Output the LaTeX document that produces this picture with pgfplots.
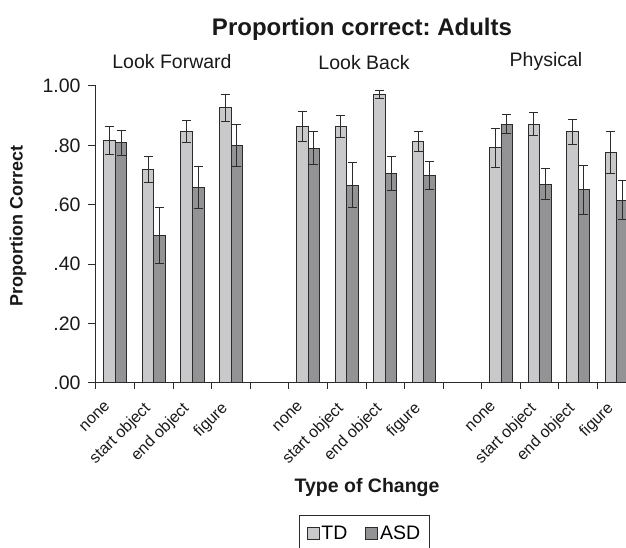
\documentclass[border=0pt]{standalone}
\usepackage{pgfplots}
\usepackage{pgfplotstable}
\pgfplotsset{compat=1.18}
\usepackage{fontspec}
\setmainfont{Liberation Sans}
\frenchspacing
\definecolor{tdfill}{HTML}{C9C9CB}
\definecolor{asdfill}{HTML}{939396}
\definecolor{edge}{HTML}{2B2B2B}
\pgfplotstableread{
x td tdse asd asdse
0 0.816 0.048 0.809 0.042
1 0.719 0.044 0.497 0.095
2 0.846 0.037 0.658 0.072
3 0.926 0.047 0.799 0.070
5 0.863 0.050 0.791 0.057
6 0.863 0.038 0.666 0.076
7 0.972 0.013 0.704 0.057
8 0.813 0.034 0.699 0.047
10 0.792 0.066 0.872 0.033
11 0.872 0.040 0.670 0.052
12 0.846 0.042 0.650 0.082
13 0.775 0.071 0.616 0.067
}\data
\begin{document}
\frenchspacing
\begin{tikzpicture}[x=1pt,y=1pt]
\useasboundingbox (-96,-165) rectangle (530,383);
\clip (-96,-165) rectangle (530,383);
\begin{axis}[
  at={(0,0)}, anchor=south west,
  scale only axis, width=540pt, height=297pt,
  xmin=-0.5, xmax=13.5, ymin=0, ymax=1,
  clip=false,
  axis x line*=bottom, axis y line*=left,
  axis line style={line width=1pt, -, edge},
  tick align=outside,
  major tick length=8pt,
  minor tick length=6pt,
  tick style={line width=1pt, edge},
  ytick={0,0.2,0.4,0.6,0.8,1},
  yticklabels={.00,.20,.40,.60,.80,1.00},
  yticklabel style={xshift=-4pt, font=\fontsize{19.5}{19.5}\selectfont, text=black!90},
  xtick={0,1,2,3,5,6,7,8,10,11,12,13},
  xticklabels={none,start object,end object,figure,none,start object,end object,figure,none,start object,end object,figure},
  minor xtick={-0.5,0.5,...,13.5},
  major x tick style={draw=none},
  xticklabel style={xshift=-11pt, yshift=-5pt, rotate=45, anchor=north east, font=\fontsize{16}{16}\selectfont, text=black!90},
  title={Proportion correct: Adults},
  title style={at={(axis description cs:0.4926,1.150)}, anchor=base, font=\bfseries\fontsize{24}{24}\selectfont, text=black!90},
  xlabel={Type of Change},
  xlabel style={at={(axis description cs:0.5019,-0.352)}, anchor=center, font=\bfseries\fontsize{19.5}{19.5}\selectfont, text=black!90},
  ylabel={Proportion Correct},
  ylabel style={at={(axis description cs:-0.1444,0.5286)}, anchor=center, font=\bfseries\fontsize{18}{18}\selectfont, text=black!90},
  legend columns=2,
  legend style={at={(axis description cs:0.376,-0.4444)}, anchor=north west, draw=edge, line width=1pt,
     font=\fontsize{19.5}{19.5}\selectfont, inner xsep=7pt, inner ysep=8pt,
     /tikz/every even column/.append style={column sep=16pt}},
  legend image code/.code={\draw[#1, line width=0.8pt] (0pt,-6pt) rectangle (12pt,6pt);},
  error bars/error bar style={line width=1pt, edge},
  error bars/error mark options={rotate=90, mark size=4.5pt, line width=1pt, edge},
]
\addplot[ybar, bar width=0.3, bar shift=0, fill=tdfill, draw=edge, line width=1pt,
  error bars/.cd, y dir=both, y explicit]
  table[x expr=\thisrow{x}-0.15, y=td, y error=tdse] {\data};
\addlegendentry{TD}
\addplot[ybar, bar width=0.3, bar shift=0, fill=asdfill, draw=edge, line width=1pt,
  error bars/.cd, y dir=both, y explicit]
  table[x expr=\thisrow{x}+0.15, y=asd, y error=asdse] {\data};
\addlegendentry{ASD}
\node[anchor=base, font=\fontsize{19.5}{19.5}\selectfont, text=black!90] at (axis description cs:0.1407,1.0606) {Look Forward};
\node[anchor=base, font=\fontsize{19.5}{19.5}\selectfont, text=black!90] at (axis description cs:0.4963,1.0572) {Look Back};
\node[anchor=base, font=\fontsize{19.5}{19.5}\selectfont, text=black!90] at (axis description cs:0.8333,1.064) {Physical};
\end{axis}
\end{tikzpicture}
\end{document}
